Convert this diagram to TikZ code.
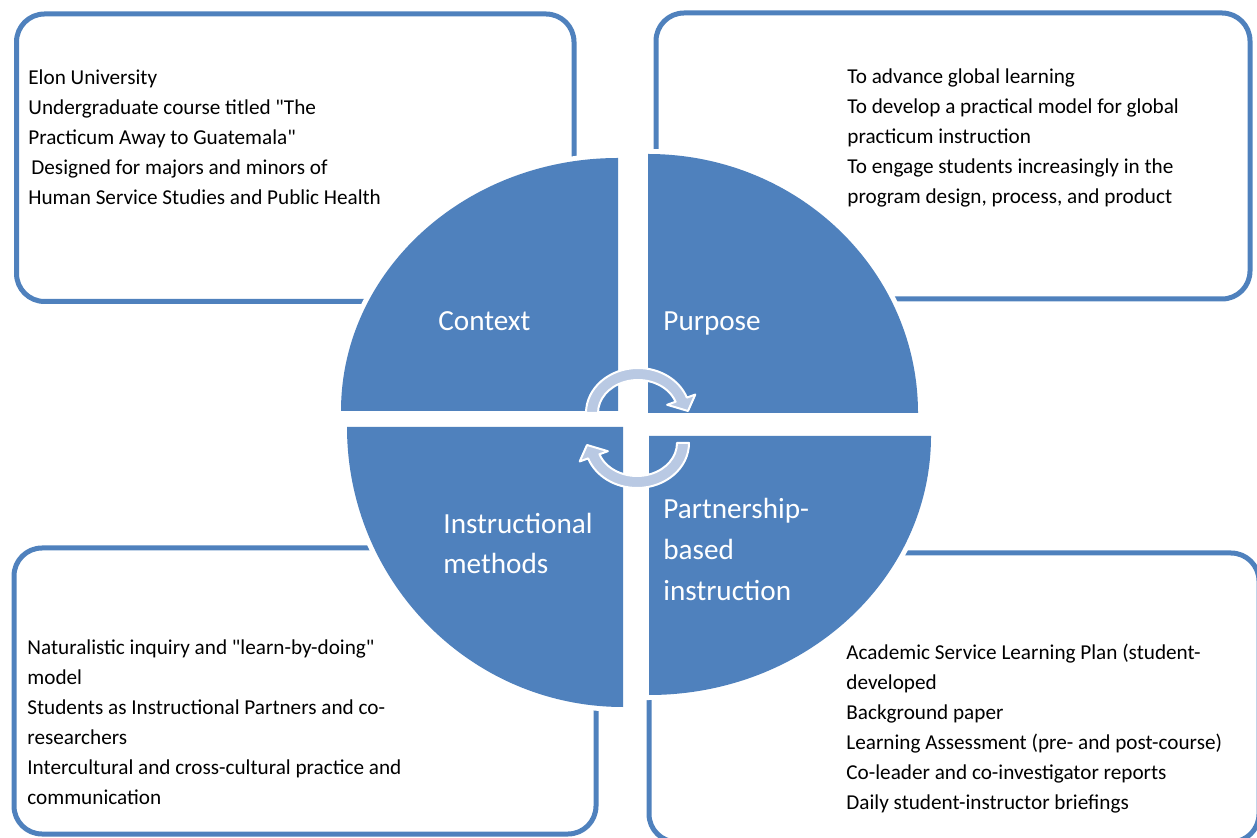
\documentclass[tikz,border=0pt]{standalone}
\usepackage{fontspec}
\setmainfont{Carlito}
\definecolor{quadblue}{RGB}{79,129,189}
\definecolor{cyclelight}{RGB}{185,201,227}

\begin{document}
\begin{tikzpicture}[x=0.5pt,y=-0.5pt,
  infobox/.style={draw=quadblue, line width=2.5pt, rounded corners=14pt},
  quarter/.style={fill=quadblue, preaction={draw=white, line width=5pt}},
  boxtext/.style={anchor=west, align=left, inner sep=0pt, font=\fontsize{10.6}{15}\selectfont},
  quadlabel/.style={anchor=west, align=left, inner sep=0pt, text=white, font=\fontsize{14.6}{20.3}\selectfont},
  cyclearrow/.style={fill=cyclelight, draw=white, line width=1pt, line join=round}]
  \useasboundingbox (0,0) rectangle (1257,838);
  \clip (0,0) rectangle (1257,838);
  % boxes behind the cycle
  \draw[infobox] (16.5,14) rectangle (574,301.5);
  \draw[infobox] (656,13) rectangle (1250,299);
  \draw[infobox] (14,548) rectangle (596,834);
  \draw[infobox] (649,553) rectangle (1259,842);
  \node[boxtext] (contextnotes) at (28,137) {Elon University\\Undergraduate course titled \textquotedbl The\\Practicum Away to Guatemala\textquotedbl\\\hspace{1.5pt}Designed for majors and minors of\\Human Service Studies and Public Health};
  \node[boxtext] (purposenotes) at (847,138) {To advance global learning\\To develop a practical model for global\\practicum instruction\\To engage students increasingly in the\\program design, process, and product};
  \node[boxtext] (methodnotes) at (27,722) {Naturalistic inquiry and \textquotedbl learn-by-doing\textquotedbl\\model\\Students as Instructional Partners and co-\\researchers\\Intercultural and cross-cultural practice and\\communication};
  \node[boxtext] (partnernotes) at (846,729) {Academic Service Learning Plan (student-\\developed\\Background paper\\Learning Assessment (pre- and post-course)\\Co-leader and co-investigator reports\\Daily student-instructor briefings};
  % four quarters
  \fill[quarter] (618,411) -- ++(-277,0) arc[start angle=180, end angle=270, x radius=277, y radius=253] -- cycle;
  \fill[quarter] (648,413) -- ++(0,-259) arc[start angle=270, end angle=360, x radius=270, y radius=259] -- cycle;
  \fill[quarter] (649,436) -- ++(282,0) arc[start angle=0, end angle=90, x radius=282, y radius=259] -- cycle;
  \fill[quarter] (623,427) -- ++(0,280) arc[start angle=90, end angle=180, x radius=276, y radius=280] -- cycle;
  \node[quadlabel] (context) at (438,321) {Context};
  \node[quadlabel] (purpose) at (663,323) {Purpose};
  \node[quadlabel] (methods) at (443,543.5) {Instructional\\methods};
  \node[quadlabel] (partnership) at (663,549.5) {Partnership-\\based\\instruction};
  % cycle arrows
  \begin{scope}[shift={(638,413)}]
    \filldraw[cyclearrow] (180:52 and 45) arc[start angle=180, end angle=340, x radius=52, y radius=45] -- (340:61 and 54) -- (50,-2) -- (340:31 and 24) -- (340:40 and 33) arc[start angle=340, end angle=180, x radius=40, y radius=33] -- cycle;
  \end{scope}
  \begin{scope}[shift={(637,443)}, rotate=180]
    \filldraw[cyclearrow] (180:52 and 45) arc[start angle=180, end angle=340, x radius=52, y radius=45] -- (340:61 and 54) -- (50,-2) -- (340:31 and 24) -- (340:40 and 33) arc[start angle=340, end angle=180, x radius=40, y radius=33] -- cycle;
  \end{scope}
\end{tikzpicture}
\end{document}
